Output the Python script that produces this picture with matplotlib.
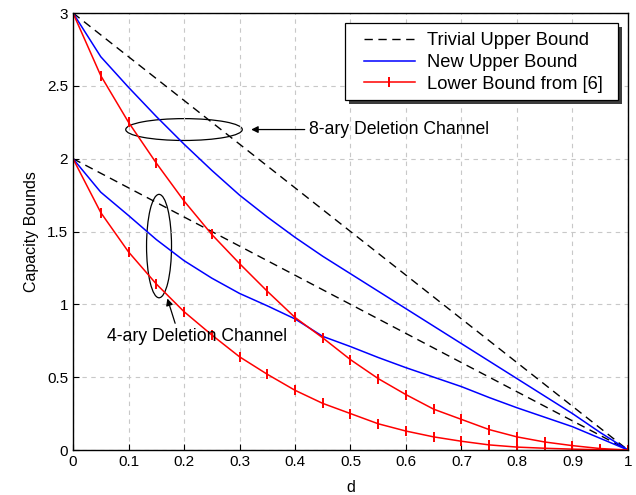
import matplotlib
matplotlib.use("Agg")
import matplotlib.pyplot as plt
from matplotlib.patches import Ellipse, Rectangle
from matplotlib.transforms import offset_copy
import numpy as np

plt.rcParams['font.family'] = ['Liberation Sans', 'DejaVu Sans']

d = np.round(np.arange(0, 1.0001, 0.05), 2)

trivial_8 = [3.0, 0.0]
trivial_4 = [2.0, 0.0]
trivial_d = [0.0, 1.0]

upper_8 = [3.00, 2.70, 2.49, 2.29, 2.10, 1.92, 1.75, 1.60, 1.46, 1.33, 1.21,
           1.09, 0.97, 0.85, 0.73, 0.61, 0.49, 0.37, 0.25, 0.12, 0.0]
upper_4 = [2.00, 1.77, 1.61, 1.445, 1.30, 1.18, 1.075, 0.99, 0.90, 0.78, 0.71,
           0.635, 0.565, 0.50, 0.435, 0.36, 0.29, 0.225, 0.16, 0.08, 0.0]
lower_8 = [3.00, 2.57, 2.25, 1.97, 1.71, 1.48, 1.28, 1.09, 0.91, 0.77, 0.62,
           0.49, 0.38, 0.28, 0.21, 0.14, 0.09, 0.055, 0.03, 0.01, 0.0]
lower_4 = [2.00, 1.63, 1.36, 1.14, 0.95, 0.79, 0.64, 0.52, 0.41, 0.32, 0.25,
           0.18, 0.13, 0.09, 0.06, 0.035, 0.02, 0.012, 0.006, 0.002, 0.0]

legend_labels = ['Trivial Upper Bound', 'New Upper Bound', 'Lower Bound from [6]']

fig = plt.figure(figsize=(6.36, 4.95), dpi=100)
ax = fig.add_axes([0.1148, 0.0909, 0.8726, 0.8828])

dash = (0, (6, 4))
l1, = ax.plot(trivial_d, trivial_8, color='black', lw=1.0, linestyle=dash)
ax.plot(trivial_d, trivial_4, color='black', lw=1.0, linestyle=dash)
l2, = ax.plot(d, upper_8, color='blue', lw=1.1)
ax.plot(d, upper_4, color='blue', lw=1.1)
l3, = ax.plot(d, lower_8, color='red', lw=1.1, marker='|', markersize=7.4, markeredgewidth=1.4)
ax.plot(d, lower_4, color='red', lw=1.1, marker='|', markersize=7.4, markeredgewidth=1.4)

ax.set_xlim(0, 1)
ax.set_ylim(0, 3)
ax.set_xticks(np.arange(0, 1.01, 0.1))
ax.set_xticklabels(['0', '0.1', '0.2', '0.3', '0.4', '0.5', '0.6', '0.7', '0.8', '0.9', '1'])
ax.set_yticks(np.arange(0, 3.01, 0.5))
ax.set_yticklabels(['0', '0.5', '1', '1.5', '2', '2.5', '3'])
ax.tick_params(direction='in', length=4, labelsize=11, width=0.8)
ax.grid(True, color='#c8c8c8', linestyle=(0, (4, 4)), lw=0.8)
for s in ax.spines.values():
    s.set_linewidth(1.0)

ax.set_xlabel('d', fontsize=11.5, labelpad=8)
ax.set_ylabel('Capacity Bounds', fontsize=11.5, labelpad=6)

ax.add_patch(Ellipse((0.2, 2.20), 0.21, 0.15, fill=False, edgecolor='black', lw=0.9))
ax.add_patch(Ellipse((0.155, 1.40), 0.045, 0.71, fill=False, edgecolor='black', lw=0.9))

ax.annotate('8-ary Deletion Channel', xy=(0.321, 2.20), xytext=(0.425, 2.20),
            fontsize=12.7, va='center', ha='left',
            arrowprops=dict(arrowstyle='-|>', color='black', lw=0.9, shrinkA=1, shrinkB=0,
                            mutation_scale=10))
ax.text(0.224, 0.78, '4-ary Deletion Channel', fontsize=12.7, ha='center', va='center')
ax.annotate('', xy=(0.170, 1.04), xytext=(0.184, 0.87),
            arrowprops=dict(arrowstyle='-|>', color='black', lw=0.9, shrinkA=0, shrinkB=0,
                            mutation_scale=10))

# legend frame with shadow drawn manually
bx0, bx1, by0, by1 = 0.490, 0.982, 0.801, 0.977
shadow_tr = offset_copy(ax.transAxes, fig=fig, x=3.0, y=-3.0, units='points')
ax.add_patch(Rectangle((bx0, by0), bx1 - bx0, by1 - by0, transform=shadow_tr,
                       facecolor='#3c3c3c', edgecolor='none', zorder=8, clip_on=False))
ax.add_patch(Rectangle((bx0, by0), bx1 - bx0, by1 - by0, transform=ax.transAxes,
                       facecolor='white', edgecolor='black', lw=0.9, zorder=9, clip_on=False))

leg = ax.legend([l1, l2, l3], legend_labels,
                loc='upper left', bbox_to_anchor=(0.524, 0.956), fontsize=13.2,
                frameon=False, handlelength=2.8, borderpad=0.0, labelspacing=0.26,
                handletextpad=0.66, borderaxespad=0.0)
leg.set_zorder(10)

fig.savefig('out.png', dpi=100)
